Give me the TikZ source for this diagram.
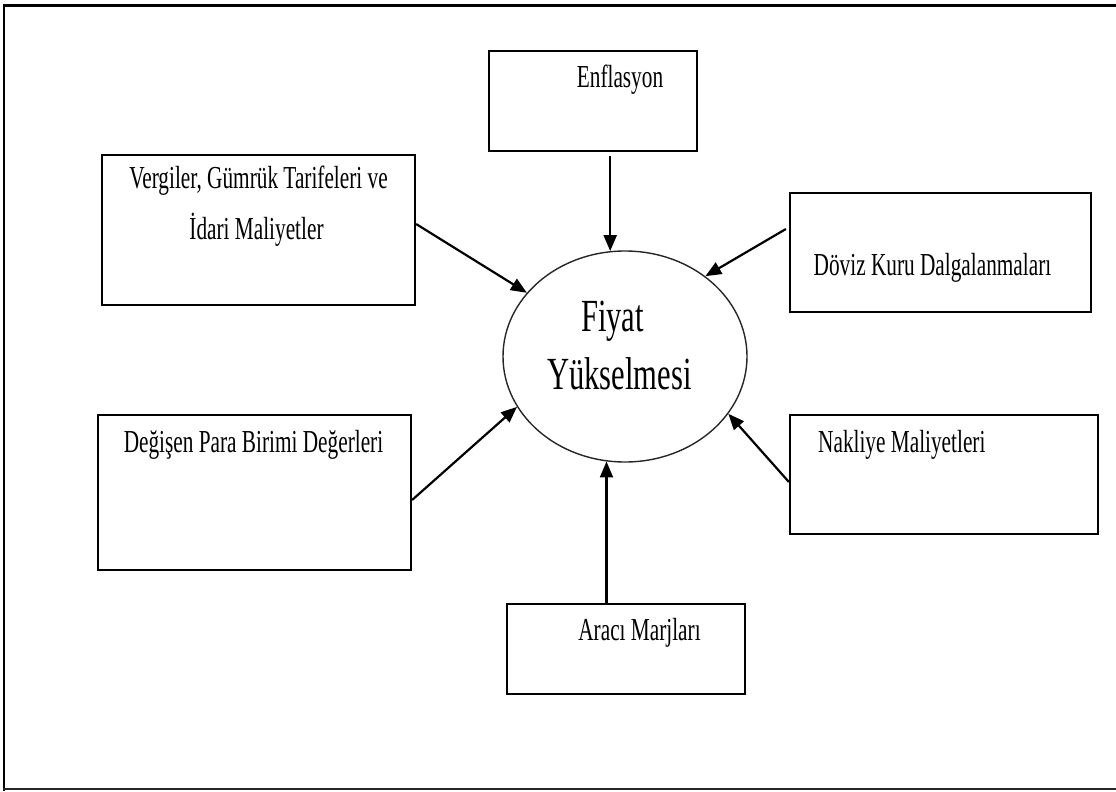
\documentclass[tikz,border=0pt]{standalone}
\usepackage{fontspec}
\setmainfont[FakeStretch=0.665]{Liberation Serif}
\usetikzlibrary{shapes.geometric,arrows.meta}
\begin{document}
\begin{tikzpicture}[x=1pt,y=-1pt,
  boxnode/.style={draw=black,line width=2.2pt,rectangle,inner sep=0pt},
  boxtext/.style={inner sep=0pt,anchor=base,font=\fontsize{32}{36}\selectfont},
  bigtext/.style={inner sep=0pt,anchor=base,font=\fontsize{46}{50}\selectfont},
  arr/.style={line width=2.2pt,-{Triangle[length=16pt,width=13pt]}},
  frame/.style={line width=3pt,black}]
\useasboundingbox (0,0) rectangle (1116,792);
% frame
\draw[frame] (1116,5.5) -- (4,5.5) coordinate (fr1);
\draw[frame,line width=2.5pt] (4,4) -- (4,790.5) coordinate (fr2);
\draw[frame,line width=2.5pt,black!85] (3,789) -- (1116,789);
% central ellipse
\node[ellipse,draw=black!85,line width=1.4pt,minimum width=244pt,minimum height=211pt,inner sep=0pt] (fy) at (625,356.5) {};
\node[bigtext] (fy1) at (612.5,331) {Fiyat};
\node[bigtext] (fy2) at (619.5,389) {Yükselmesi};
% boxes
\node[boxnode,minimum width=208pt,minimum height=100pt] (enf) at (593,101) {};
\node[boxtext] (enft) at (620,88) {Enflasyon};
\node[boxnode,minimum width=313pt,minimum height=150pt] (verg) at (258.5,230) {};
\node[boxtext] (vergt1) at (258.5,188) {Vergiler, Gümrük Tarifeleri ve};
\node[boxtext] (vergt2) at (256.5,239) {İdari Maliyetler};
\node[boxnode,minimum width=301pt,minimum height=119pt] (dov) at (940.5,252.5) {};
\node[boxtext] (dovt) at (932.5,275) {Döviz Kuru Dalgalanmaları};
\node[boxnode,minimum width=313pt,minimum height=155pt] (deg) at (254.5,492.5) {};
\node[boxtext] (degt) at (253.5,452) {Değişen Para Birimi Değerleri};
\node[boxnode,minimum width=308pt,minimum height=119pt] (nak) at (944,474.5) {};
\node[boxtext,anchor=base west] (nakt) at (818,452) {Nakliye Maliyetleri};
\node[boxnode,minimum width=238pt,minimum height=90pt] (ara) at (626,649) {};
\node[boxtext] (arat) at (639.5,640) {Aracı Marjları};
% arrows
\draw[arr] ([yshift=-4pt]fy.98 |- enf.south) -- (fy.98);
\draw[arr] (verg.east) ++(0,-6) -- (fy.147.6);
\draw[arr] (dov.west) ++(-3,-23.5) -- (fy.45);
\draw[arr] (deg.east) ++(0,7.5) -- (fy.205);
\draw[arr] (nak.west) ++(0,7.5) -- (fy.-29.4);
\draw[arr] (fy.260.4 |- ara.north) -- (fy.260.4);
\end{tikzpicture}
\end{document}
